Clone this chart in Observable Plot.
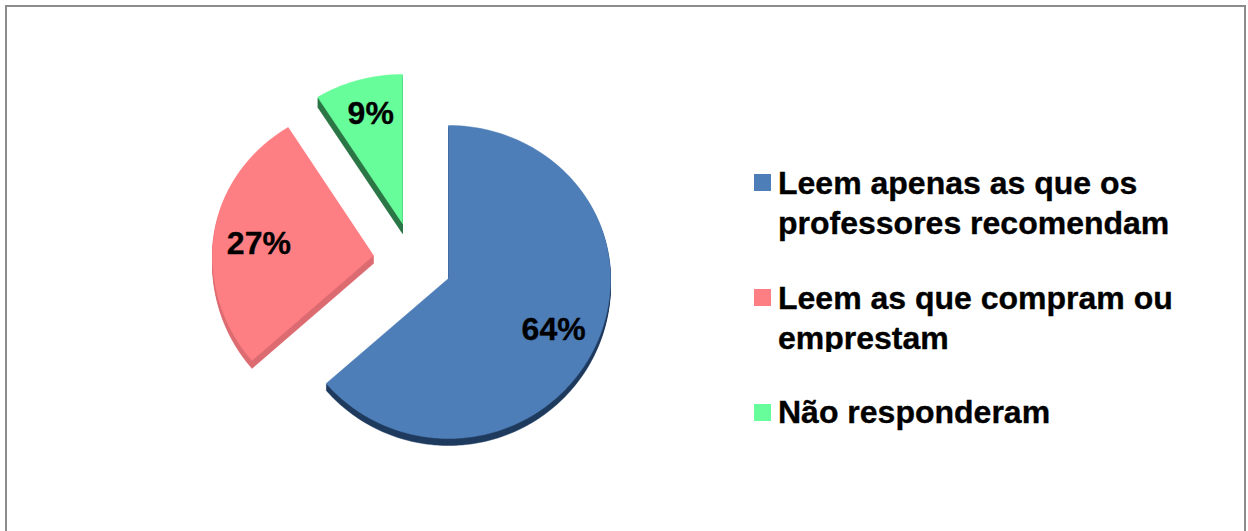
<!DOCTYPE html>
<html lang="pt">
<head>
<meta charset="utf-8">
<script src="https://cdn.jsdelivr.net/npm/d3@7"></script>
<script src="https://cdn.jsdelivr.net/npm/@observablehq/plot@0.6"></script>
<style>
  html, body { margin: 0; padding: 0; background: #fff; overflow: hidden; }
  #page { position: relative; width: 1248px; height: 531px; overflow: hidden; }
  #frame { position: absolute; left: 5px; top: 5px; width: 1237px; height: 540px;
           border: 2.5px solid #8c8c8c; box-sizing: content-box; pointer-events: none; }
  #clip { position: absolute; left: 770px; top: 352px; width: 220px; height: 12px; background: #fff; }
  svg { position: absolute; left: 0; top: 0; }
</style>
</head>
<body>
<div id="page"><div id="frame"></div></div>
<script>
// Chart values
const categories = ["Leem apenas as que os", "Leem as que compram ou", "Não responderam"];
const categoryContinuations = ["professores recomendam", "emprestam", ""];
const values = [64, 27, 9];
const percentLabels = ["64%", "27%", "9%"];

// Colours
const faceColors = ["#4e7eb8", "#fe7f83", "#68fd9b"];
const sideColors = ["#1f3b5e", "#dc6d72", "#2c7747"];

// Layout of the exploded, tilted pie
const centers = [[448, 278], [373, 255], [402, 223]];
const depths = [7, 8, 10];
const radiiX = [162, 161, 160], radiiUp = [153, 151, 149], radiiDown = [160, 160, 160];
// the tilt of the pie moves the slice boundaries slightly on screen (degrees)
const tiltShift = [0, -1.4, 0.4, 0];
const labelRadius = [0.72, 0.72, 0.72];
const labelNudge = [[-1, 3], [0, 4], [0, -7]];
const legendX = 754, legendSwatch = 17, legendTextX = 777.5;
const legendTop = [174, 289, 404];
const legendBaseline = [193, 308, 422];
const legendLineGap = 40;

function ellipsePoint(i, deg, f = 1) {
  const c = centers[i], a = deg * Math.PI / 180, cy = Math.cos(a);
  const ry = cy >= 0 ? radiiUp[i] : radiiDown[i];
  return [c[0] + f * radiiX[i] * Math.sin(a), c[1] - f * ry * cy];
}

const total = d3.sum(values);
let cum = 0;
const slices = values.map((v, i) => {
  const start = cum / total * 360 + tiltShift[i];
  cum += v;
  const end = cum / total * 360 + tiltShift[i + 1];
  return { i, start, end, mid: (start + end) / 2 };
});

function outline(s, dy, key) {
  const c = centers[s.i];
  const pts = [{ x: c[0], y: c[1] + dy, key }];
  for (let d = s.start; d < s.end; d += 1) {
    const p = ellipsePoint(s.i, d);
    pts.push({ x: p[0], y: p[1] + dy, key });
  }
  const e = ellipsePoint(s.i, s.end);
  pts.push({ x: e[0], y: e[1] + dy, key });
  pts.push({ x: c[0], y: c[1] + dy, key });
  return pts;
}

const marks = [];
slices.forEach(s => {
  const side = [];
  for (let d = depths[s.i]; d >= 1; d--) side.push(...outline(s, d, "d" + d));
  marks.push(Plot.line(side, { x: "x", y: "y", z: "key", fill: sideColors[s.i], stroke: sideColors[s.i], strokeWidth: 0.5, curve: "linear" }));
});
slices.forEach(s => {
  marks.push(Plot.line(outline(s, 0, "top"), { x: "x", y: "y", z: "key", fill: faceColors[s.i], stroke: faceColors[s.i], strokeWidth: 0.5, curve: "linear" }));
});

const textStyle = { fontSize: 32, fontWeight: "bold", fontFamily: "Liberation Sans", fill: "#000", stroke: "#000", strokeWidth: 0.35 };

const labelData = slices.map(s => {
  const p = ellipsePoint(s.i, s.mid, labelRadius[s.i]);
  return { x: p[0] + labelNudge[s.i][0], y: p[1] + labelNudge[s.i][1], t: percentLabels[s.i] };
});
marks.push(Plot.text(labelData, { x: "x", y: "y", text: "t", textAnchor: "middle", lineAnchor: "middle", ...textStyle }));

categories.forEach((c, i) => {
  marks.push(Plot.rect([{ x1: legendX, x2: legendX + legendSwatch, y1: legendTop[i], y2: legendTop[i] + legendSwatch }],
    { x1: "x1", x2: "x2", y1: "y1", y2: "y2", fill: faceColors[i] }));
});
const legendLines = categories.flatMap((c, i) => [
  { t: c, x: legendTextX, y: legendBaseline[i] },
  { t: categoryContinuations[i], x: legendTextX, y: legendBaseline[i] + legendLineGap }
]).filter(d => d.t);
marks.push(Plot.text(legendLines, { x: "x", y: "y", text: "t", textAnchor: "start", lineAnchor: "bottom", ...textStyle }));

const chart = Plot.plot({
  width: 1248, height: 531,
  marginTop: 0, marginRight: 0, marginBottom: 0, marginLeft: 0,
  x: { type: "linear", domain: [0, 1248], range: [0, 1248], axis: null },
  y: { type: "linear", domain: [0, 531], range: [0, 531], axis: null },
  style: { background: "transparent" },
  marks
});
const page = document.getElementById("page");
page.insertBefore(chart, page.firstChild);
const clip = document.createElement("div");
clip.id = "clip";
page.appendChild(clip);
</script>
</body>
</html>
